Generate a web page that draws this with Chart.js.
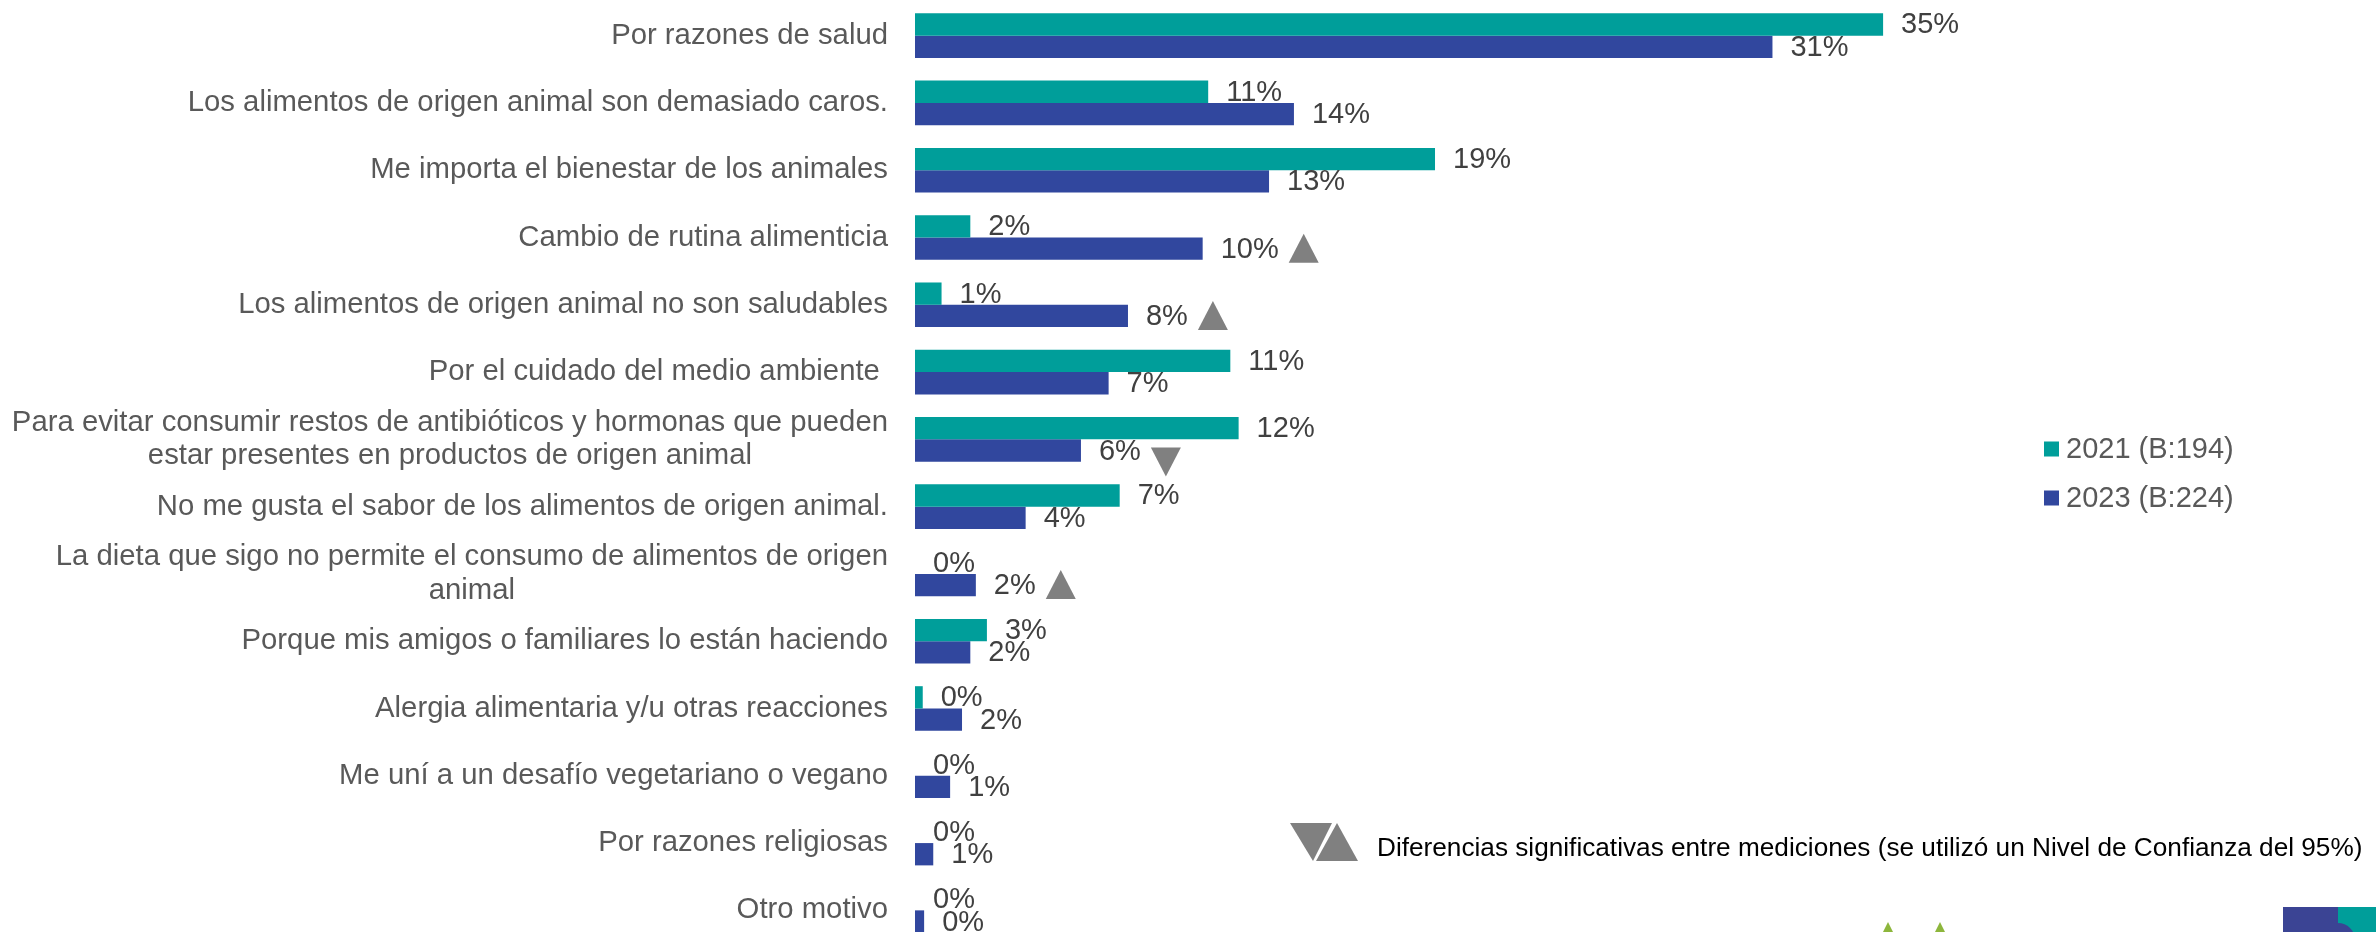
<!DOCTYPE html>
<html lang="es">
<head>
<meta charset="utf-8">
<title>Motivos</title>
<script src="https://cdn.jsdelivr.net/npm/chart.js@4.4.1/dist/chart.umd.min.js"></script>
<style>
  html, body { margin: 0; padding: 0; background: #fff; overflow: hidden; }
  #wrap { position: relative; width: 2376px; height: 932px; overflow: hidden; }
  canvas { position: absolute; left: 0; top: 0; }
</style>
</head>
<body>
<div id="wrap"><canvas id="chart" width="2376" height="946"></canvas></div>
<script>
const categories = [
    'Por razones de salud',
    'Los alimentos de origen animal son demasiado caros.',
    'Me importa el bienestar de los animales',
    'Cambio de rutina alimenticia',
    'Los alimentos de origen animal no son saludables',
    'Por el cuidado del medio ambiente ',
    ['Para evitar consumir restos de antibióticos y hormonas que pueden', 'estar presentes en productos de origen animal'],
    'No me gusta el sabor de los alimentos de origen animal.',
    ['La dieta que sigo no permite el consumo de alimentos de origen', 'animal'],
    'Porque mis amigos o familiares lo están haciendo',
    'Alergia alimentaria y/u otras reacciones',
    'Me uní a un desafío vegetariano o vegano',
    'Por razones religiosas',
    'Otro motivo',
];
const values2021 = [35, 10.6, 18.8, 2.0, 0.96, 11.4, 11.7, 7.4, 0, 2.6, 0.28, 0, 0, 0];
const values2023 = [31, 13.7, 12.8, 10.4, 7.7, 7.0, 6.0, 4.0, 2.2, 2.0, 1.7, 1.27, 0.66, 0.33];
const seriesNames = ['2021 (B:194)', '2023 (B:224)'];
const seriesColors = ['#009E9A', '#31479E'];
// significant change 2023 vs 2021
const significance = [null, null, null, 'up', 'up', null, 'down', null, 'up', null, null, null, null, null];
const noteText = 'Diferencias significativas entre mediciones (se utilizó un Nivel de Confianza del 95%)';

const FONT = '"Liberation Sans", Arial, sans-serif';
const markGray = '#808080';

function triangle(ctx, x, y, w, h, dir) {
    ctx.beginPath();
    if (dir === 'up') {
        ctx.moveTo(x, y + h);
        ctx.lineTo(x + w, y + h);
        ctx.lineTo(x + w / 2, y);
    } else {
        ctx.moveTo(x, y);
        ctx.lineTo(x + w, y);
        ctx.lineTo(x + w / 2, y + h);
    }
    ctx.closePath();
    ctx.fill();
}

const decorations = {
    id: 'decorations',
    afterDatasetsDraw(chart) {
        const { ctx, chartArea, scales: { y } } = chart;
        ctx.save();

        // category labels, multi-line ones centred on their widest line
        ctx.font = `29.3px ${FONT}`;
        ctx.fillStyle = '#595959';
        ctx.textBaseline = 'middle';
        ctx.textAlign = 'left';
        const right = chartArea.left - 27;
        categories.forEach((label, i) => {
            const lines = Array.isArray(label) ? label : [label];
            const cy = y.getPixelForTick(i);
            const widest = Math.max(...lines.map((l) => ctx.measureText(l).width));
            lines.forEach((line, j) => {
                const w = ctx.measureText(line).width;
                const ly = cy + (j - (lines.length - 1) / 2) * 33.5;
                ctx.fillText(line, right - widest + (widest - w) / 2, ly);
            });
        });

        // value labels + significance arrows
        ctx.font = `29px ${FONT}`;
        chart.data.datasets.forEach((ds, d) => {
            chart.getDatasetMeta(d).data.forEach((bar, i) => {
                const text = Math.round(ds.data[i]) + '%';
                ctx.fillStyle = '#404040';
                ctx.fillText(text, bar.x + 18, bar.y + 1);
                if (d === 1 && significance[i]) {
                    const tx = bar.x + 18 + ctx.measureText(text).width + 10;
                    ctx.fillStyle = markGray;
                    if (significance[i] === 'up') {
                        triangle(ctx, tx, bar.y + 14 - 29, 30, 29, 'up');
                    } else {
                        triangle(ctx, tx, bar.y - 3, 30, 29, 'down');
                    }
                }
            });
        });

        // legend
        seriesNames.forEach((name, k) => {
            const ly = 449 + k * 49;
            ctx.fillStyle = seriesColors[k];
            ctx.fillRect(2044, ly - 7.5, 15, 15);
            ctx.fillStyle = '#595959';
            ctx.fillText(name, 2066, ly + 1);
        });

        // significance note
        ctx.fillStyle = markGray;
        ctx.beginPath();
        ctx.moveTo(1290, 823); ctx.lineTo(1332, 823); ctx.lineTo(1313, 861); ctx.closePath(); ctx.fill();
        ctx.beginPath();
        ctx.moveTo(1316, 861); ctx.lineTo(1358, 861); ctx.lineTo(1337, 823); ctx.closePath(); ctx.fill();
        ctx.font = `26.2px ${FONT}`;
        ctx.fillStyle = '#000000';
        ctx.fillText(noteText, 1377, 848.5);

        // clipped logos at the bottom edge
        ctx.fillStyle = '#3B4494';
        ctx.fillRect(2283, 907, 55, 40);
        ctx.fillStyle = '#009E9A';
        ctx.fillRect(2338, 907, 38, 40);
        ctx.fillStyle = '#3B4494';
        ctx.beginPath();
        ctx.arc(2338, 940, 17, -Math.PI / 2, Math.PI / 2);
        ctx.fill();
        ctx.fillStyle = '#8DB63C';
        [1888, 1940].forEach((lx) => {
            triangle(ctx, lx - 6, 922, 12, 12, 'up');
        });

        ctx.restore();
    },
};

new Chart(document.getElementById('chart'), {
    type: 'bar',
    data: {
        labels: categories,
        datasets: [
            { label: seriesNames[0], data: values2021, backgroundColor: seriesColors[0] },
            { label: seriesNames[1], data: values2023, backgroundColor: seriesColors[1] },
        ],
    },
    options: {
        indexAxis: 'y',
        responsive: false,
        devicePixelRatio: 1,
        animation: false,
        datasets: { bar: { categoryPercentage: 0.663, barPercentage: 1 } },
        layout: { padding: { top: 2, bottom: 2, left: 0, right: 78 } },
        plugins: { legend: { display: false }, tooltip: { enabled: false } },
        scales: {
            x: { display: false, min: 0, max: 50 },
            y: {
                grid: { display: false, drawTicks: false },
                border: { display: false },
                ticks: { display: false },
                afterFit: (scale) => { scale.width = 915; },
            },
        },
    },
    plugins: [decorations],
});
</script>
</body>
</html>
